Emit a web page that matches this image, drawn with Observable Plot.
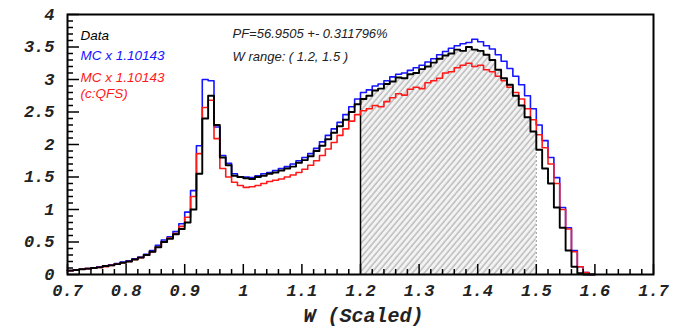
<!DOCTYPE html>
<html>
<head>
<meta charset="utf-8">
<script src="https://cdn.jsdelivr.net/npm/d3@7"></script>
<script src="https://cdn.jsdelivr.net/npm/@observablehq/plot@0.6"></script>
<style>
  html, body { margin: 0; padding: 0; background: #fff; }
  #chart { width: 685px; height: 328px; }
</style>
</head>
<body>
<div id="chart"></div>
<script>
// Histogram bins: lower edges from 0.70 in steps of 0.01 (90 bins)
const binStart = 0.70;
const binWidth = 0.01;

// Data (black)
const dataVals = [
  0.06, 0.07, 0.08, 0.09, 0.10, 0.11, 0.13, 0.14, 0.16, 0.18,
  0.20, 0.23, 0.26, 0.30, 0.35, 0.42, 0.50, 0.55, 0.62, 0.70,
  0.80, 1.00, 1.55, 2.40, 2.75, 2.30, 1.80, 1.68, 1.52, 1.50,
  1.48, 1.47, 1.50, 1.52, 1.55, 1.57, 1.60, 1.63, 1.66, 1.72,
  1.76, 1.82, 1.90, 1.98, 2.08, 2.18, 2.28, 2.38, 2.50, 2.62,
  2.70, 2.75, 2.83, 2.86, 2.93, 2.97, 3.03, 3.02, 3.08, 3.10,
  3.16, 3.20, 3.26, 3.32, 3.37, 3.40, 3.46, 3.44, 3.50, 3.46,
  3.44, 3.38, 3.30, 3.15, 3.02, 2.92, 2.75, 2.60, 2.42, 2.20,
  1.92, 1.63, 1.40, 1.03, 0.72, 0.37, 0.12, 0.02, 0.00, 0.00
];
// MC x 1.10143 (blue)
const mcVals = [
  0.06, 0.07, 0.08, 0.09, 0.10, 0.12, 0.13, 0.15, 0.17, 0.19,
  0.21, 0.24, 0.27, 0.31, 0.37, 0.45, 0.53, 0.58, 0.66, 0.78,
  0.96, 1.29, 1.98, 3.00, 2.98, 2.27, 1.83, 1.71, 1.55, 1.50,
  1.50, 1.49, 1.52, 1.55, 1.57, 1.60, 1.63, 1.66, 1.70, 1.75,
  1.80, 1.86, 1.94, 2.04, 2.14, 2.24, 2.34, 2.46, 2.58, 2.70,
  2.80, 2.84, 2.90, 2.93, 2.98, 3.04, 3.08, 3.10, 3.14, 3.18,
  3.22, 3.27, 3.32, 3.38, 3.43, 3.48, 3.52, 3.55, 3.57, 3.62,
  3.58, 3.52, 3.47, 3.38, 3.28, 3.17, 3.05, 2.92, 2.75, 2.55,
  2.30, 2.06, 1.80, 1.49, 1.03, 0.72, 0.37, 0.12, 0.03, 0.00
];
// MC x 1.10143 (c:QFS) (red)
const qfsVals = [
  0.06, 0.07, 0.08, 0.09, 0.10, 0.11, 0.12, 0.14, 0.16, 0.18,
  0.20, 0.23, 0.26, 0.30, 0.35, 0.42, 0.50, 0.56, 0.63, 0.74,
  0.88, 1.20, 1.86, 2.57, 2.68, 2.09, 1.63, 1.50, 1.42, 1.37,
  1.34, 1.35, 1.37, 1.40, 1.43, 1.45, 1.47, 1.50, 1.53, 1.57,
  1.62, 1.68, 1.75, 1.83, 1.93, 2.03, 2.14, 2.24, 2.36, 2.46,
  2.52, 2.55, 2.60, 2.58, 2.66, 2.72, 2.78, 2.76, 2.85, 2.88,
  2.86, 2.95, 2.98, 3.02, 3.10, 3.12, 3.18, 3.22, 3.25, 3.20,
  3.22, 3.15, 3.12, 3.05, 2.98, 2.88, 2.80, 2.70, 2.55, 2.38,
  2.15, 1.95, 1.70, 1.40, 1.00, 0.70, 0.35, 0.12, 0.03, 0.00
];

const xMajor = [0.7, 0.8, 0.9, 1.0, 1.1, 1.2, 1.3, 1.4, 1.5, 1.6, 1.7];
const yMajor = [0, 0.5, 1, 1.5, 2, 2.5, 3, 3.5, 4];
const rangeLo = 1.2, rangeHi = 1.5;

const legendLines = [
  {text: "Data", color: "black"},
  {text: "MC x 1.10143", color: "#1515ff"},
  {text: "MC x 1.10143", color: "#ff1a1a"},
  {text: "(c:QFS)", color: "#ff1a1a"}
];
const infoLines = ["PF=56.9505 +- 0.311796%", "W range: ( 1.2, 1.5 )"];
const xTitle = "W (Scaled)";

// build step series
function steps(vals) {
  const pts = vals.map((v, i) => ({x: +(binStart + i * binWidth).toFixed(4), y: v}));
  pts.push({x: +(binStart + vals.length * binWidth).toFixed(4), y: vals[vals.length - 1]});
  return pts;
}
const dataSteps = steps(dataVals);
const mcSteps = steps(mcVals);
const qfsSteps = steps(qfsVals);
const hatchSteps = dataSteps.filter(d => d.x >= rangeLo - 1e-9 && d.x < rangeHi - 1e-9);
hatchSteps.push({x: rangeHi, y: hatchSteps[hatchSteps.length - 1].y});

const xMinor = d3.range(0, 51).map(i => +(0.7 + i * 0.02).toFixed(3)).filter(v => !xMajor.some(m => Math.abs(m - v) < 1e-6));
const yMinor = d3.range(0, 41).map(i => +(i * 0.1).toFixed(2)).filter(v => !yMajor.some(m => Math.abs(m - v) < 1e-6));

const W = 685, H = 328;
const mL = 67, mR = 32, mT = 14, mB = 54;
const fw = W - mL - mR, fh = H - mT - mB;

const tickFont = {fontFamily: "'Liberation Mono', 'DejaVu Sans Mono', monospace", fontWeight: "bold", fontStyle: "italic", fontSize: 17};
const sansFont = "'Liberation Sans', Arial, Helvetica, sans-serif";

const plot = Plot.plot({
  width: W, height: H,
  marginLeft: mL, marginRight: mR, marginTop: mT, marginBottom: mB,
  style: {background: "white", fontFamily: tickFont.fontFamily},
  x: {domain: [0.7, 1.7]},
  y: {domain: [0, 4]},
  marks: [
    Plot.areaY(hatchSteps, {x: "x", y: "y", curve: "step-after", fill: "url(#hatch)"}),
    Plot.ruleX([rangeHi], {y1: 0, y2: hatchSteps[hatchSteps.length - 1].y, stroke: "#9a9a9a", strokeDasharray: "2,2", strokeWidth: 1}),
    Plot.ruleX([rangeLo], {y1: 0, y2: hatchSteps[0].y, stroke: "black", strokeWidth: 1.5}),
    Plot.line(mcSteps, {x: "x", y: "y", curve: "step-after", stroke: "#1515ff", strokeWidth: 1.6}),
    Plot.line(qfsSteps, {x: "x", y: "y", curve: "step-after", stroke: "#ff1a1a", strokeWidth: 1.6}),
    Plot.line(dataSteps, {x: "x", y: "y", curve: "step-after", stroke: "black", strokeWidth: 1.9}),
    Plot.tickX(xMajor, {x: d => d, insetTop: fh - 10, stroke: "black", strokeWidth: 1.5}),
    Plot.tickX(xMinor, {x: d => d, insetTop: fh - 5, stroke: "black", strokeWidth: 1.5}),
    Plot.tickY(yMajor, {y: d => d, insetRight: fw - 12, stroke: "black", strokeWidth: 1.5}),
    Plot.tickY(yMinor, {y: d => d, insetRight: fw - 6, stroke: "black", strokeWidth: 1.5}),
    Plot.axisX(xMajor, {tickSize: 0, tickPadding: 9, tickFormat: d3.format("~g"), label: null, ...tickFont, fill: "#222"}),
    Plot.axisY(yMajor, {tickSize: 0, tickPadding: 13, tickFormat: d3.format("~g"), label: null, ...tickFont, fill: "#222"}),
    Plot.frame({stroke: "black", strokeWidth: 2}),
    Plot.text([xTitle], {frameAnchor: "bottom", lineAnchor: "middle", dx: 3, dy: 41, text: d => d, ...tickFont, fontSize: 20, fill: "#222"}),
    ...legendLines.map((d, i) => Plot.text([d], {
      frameAnchor: "top-left", lineAnchor: "middle", dx: 13, dy: [21.5, 41.5, 63, 79][i], text: "text", fill: d.color,
      textAnchor: "start", fontFamily: sansFont, fontStyle: "italic", fontSize: 13.5
    })),
    ...infoLines.map((t, i) => Plot.text([t], {
      frameAnchor: "top-left", lineAnchor: "middle", dx: 165, dy: [19, 42][i], text: d => d, fill: "#222",
      textAnchor: "start", fontFamily: sansFont, fontStyle: "italic", fontSize: 13
    }))
  ]
});

// hatch pattern definition
const ns = "http://www.w3.org/2000/svg";
const defs = document.createElementNS(ns, "defs");
const pat = document.createElementNS(ns, "pattern");
pat.setAttribute("id", "hatch");
pat.setAttribute("patternUnits", "userSpaceOnUse");
pat.setAttribute("width", "4.5");
pat.setAttribute("height", "4.5");
pat.setAttribute("patternTransform", "rotate(40)");
const bg = document.createElementNS(ns, "rect");
bg.setAttribute("width", "4.5"); bg.setAttribute("height", "4.5"); bg.setAttribute("fill", "#f3f3f3");
const ln = document.createElementNS(ns, "line");
ln.setAttribute("x1", "1"); ln.setAttribute("y1", "0"); ln.setAttribute("x2", "1"); ln.setAttribute("y2", "4.5");
ln.setAttribute("stroke", "#a0a0a0"); ln.setAttribute("stroke-width", "1");
pat.appendChild(bg); pat.appendChild(ln);
defs.appendChild(pat);
plot.insertBefore(defs, plot.firstChild);

document.getElementById("chart").appendChild(plot);
</script>
</body>
</html>
